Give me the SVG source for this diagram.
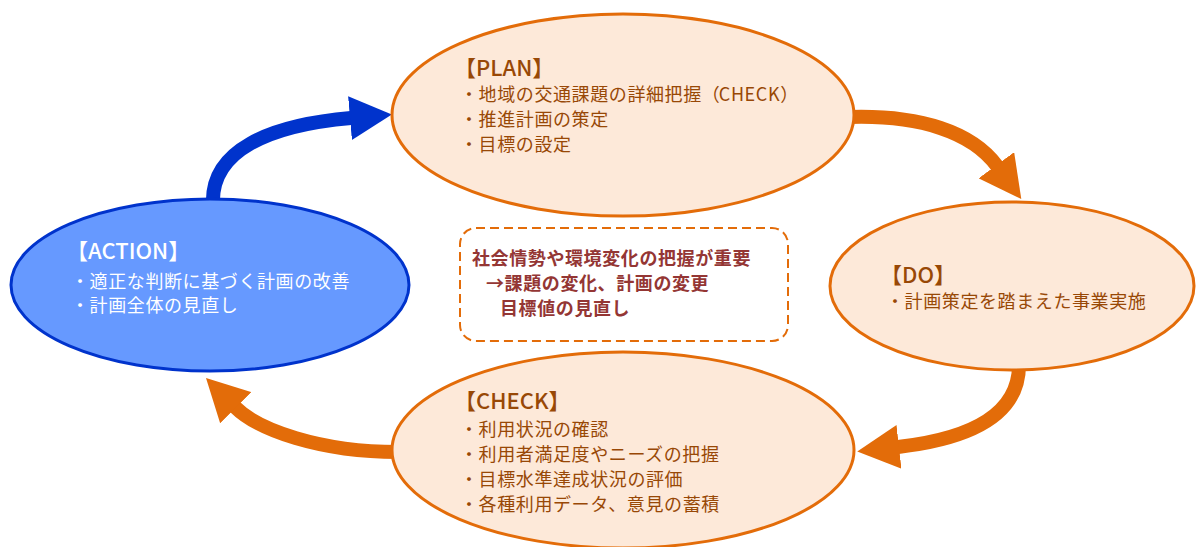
<svg xmlns="http://www.w3.org/2000/svg" width="1196" height="547" viewBox="0 0 1196 547">
<style>
text{font-family:"Noto Sans CJK JP","Noto Sans",sans-serif;font-weight:400;}
.org{fill:#FDE9D9;stroke:#E36C09;stroke-width:3;}
.blu{fill:#6699FF;stroke:#0033CC;stroke-width:3;}
.tt{font-size:22px;font-weight:500;}
.bd{font-size:18px;letter-spacing:0.6px;}
.br{fill:#984806;}
.wh{fill:#FFFFFF;}
.arO{fill:none;stroke:#E36C09;stroke-width:14;}
.arB{fill:none;stroke:#0033CC;stroke-width:14;}
.note{fill:#943634;font-size:18px;font-weight:bold;letter-spacing:0.6px;}
</style>
<defs>
<marker id="hO" viewBox="0 0 42 44" refX="1" refY="22" markerWidth="42" markerHeight="44" markerUnits="userSpaceOnUse" orient="auto"><path d="M0,0 L42,22 L0,44 z" fill="#E36C09"/></marker>
<marker id="hB" viewBox="0 0 42 44" refX="1" refY="22" markerWidth="42" markerHeight="44" markerUnits="userSpaceOnUse" orient="auto"><path d="M0,0 L42,22 L0,44 z" fill="#0033CC"/></marker>
</defs>
<g id="connectors">
<path class="arB" d="M213,205 C210,150 270,125 351,118" marker-end="url(#hB)"/>
<path class="arO" d="M850,117 C920,115 972,132 997,166" marker-end="url(#hO)"/>
<path class="arO" d="M1019,365 C1019,420 960,440 898,447" marker-end="url(#hO)"/>
<path class="arO" d="M398,452 C320,452 258,430 235,407" marker-end="url(#hO)"/>
</g>
<g id="plan">
<ellipse class="org" cx="623" cy="115" rx="231" ry="101"/>
<text class="tt br" x="454" y="76">【PLAN】</text>
<text class="bd br" x="460" y="101">・地域の交通課題の詳細把握<tspan letter-spacing="-1">（</tspan>CHECK<tspan letter-spacing="-1">）</tspan></text>
<text class="bd br" x="460" y="126">・推進計画の策定</text>
<text class="bd br" x="460" y="151">・目標の設定</text>
</g>
<g id="do">
<ellipse class="org" cx="1012" cy="286" rx="182" ry="84"/>
<text class="tt br" x="880" y="283">【DO】</text>
<text class="bd br" x="886" y="308">・計画策定を踏まえた事業実施</text>
</g>
<g id="check">
<ellipse class="org" cx="623" cy="450" rx="231" ry="98"/>
<text class="tt br" x="454" y="409">【CHECK】</text>
<text class="bd br" x="460" y="436">・利用状況の確認</text>
<text class="bd br" x="460" y="461">・利用者満足度やニーズの把握</text>
<text class="bd br" x="460" y="486">・目標水準達成状況の評価</text>
<text class="bd br" x="460" y="511">・各種利用データ、意見の蓄積</text>
</g>
<g id="action">
<ellipse class="blu" cx="210" cy="285" rx="199" ry="86"/>
<text class="tt wh" x="66" y="259">【ACTION】</text>
<text class="bd wh" x="71" y="288">・適正な判断に基づく計画の改善</text>
<text class="bd wh" x="71" y="312">・計画全体の見直し</text>
</g>
<g id="note">
<rect x="460" y="228" width="328" height="113" rx="16" ry="16" fill="none" stroke="#E36C09" stroke-width="2" stroke-dasharray="9,5"/>
<text class="note" x="472" y="265">社会情勢や環境変化の把握が重要</text>
<text class="note" x="486" y="290">→課題の変化、計画の変更</text>
<text class="note" x="500" y="315">目標値の見直し</text>
</g>
</svg>
